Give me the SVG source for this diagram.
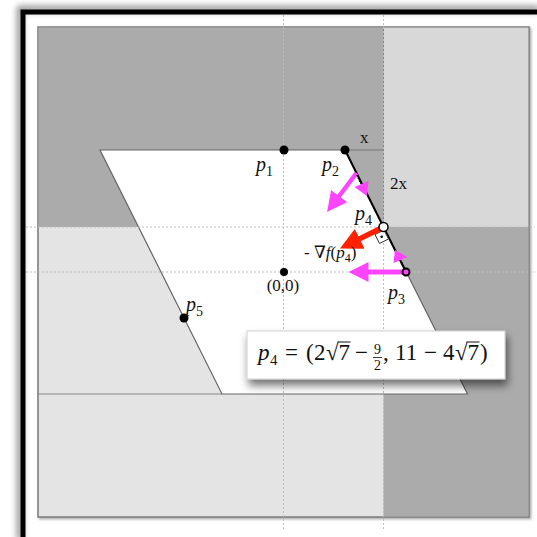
<svg xmlns="http://www.w3.org/2000/svg" width="537" height="537" viewBox="0 0 537 537">
<defs>
<style>
.lbl{font-family:"Liberation Serif","DejaVu Serif",serif;fill:#111;}
.it{font-style:italic;}
.dash{stroke:#bdbdbd;stroke-width:1;stroke-dasharray:2 2;fill:none;}
.pt{fill:#000;}
.mag{stroke:#ff44ff;fill:none;}
.red{stroke:#ff2200;fill:none;}
</style>
<filter id="blur3" x="-10%" y="-10%" width="120%" height="120%"><feGaussianBlur stdDeviation="3"/></filter>
<filter id="boxsh" x="-20%" y="-30%" width="140%" height="180%"><feDropShadow dx="2" dy="6" stdDeviation="4" flood-color="#000" flood-opacity="0.55"/></filter>
<filter id="sqsh" x="-5%" y="-5%" width="110%" height="110%"><feDropShadow dx="1.5" dy="1.5" stdDeviation="1" flood-color="#000" flood-opacity="0.35"/></filter>
<marker id="hm" markerUnits="userSpaceOnUse" markerWidth="22" markerHeight="22" refX="3" refY="10" orient="auto"><path d="M0,0 L20,10 L0,20 z" fill="#ff44ff"/></marker>
<marker id="hr" markerUnits="userSpaceOnUse" markerWidth="24" markerHeight="24" refX="3" refY="11" orient="auto"><path d="M0,0 L22,11 L0,22 z" fill="#ff2200"/></marker>
</defs>
<rect width="537" height="537" fill="#fff"/>
<!-- outer frame -->
<path d="M20 540 V9 H540" stroke="#000" stroke-opacity="0.45" stroke-width="6" fill="none" filter="url(#blur3)"/>
<path d="M23 540 V12 H540" stroke="#000" stroke-width="5" fill="none"/>
<!-- regions -->
<g id="regions">
<rect x="38" y="27" width="491" height="490" fill="#e4e4e4" stroke="#7a7a7a" stroke-width="1.5" filter="url(#sqsh)"/>
<rect x="38.75" y="27.75" width="344.75" height="199.25" fill="#ababab"/>
<rect x="383.5" y="27.75" width="144.75" height="199.25" fill="#d8d8d8"/>
<rect x="383.5" y="227" width="144.75" height="289.25" fill="#ababab"/>
<line x1="383.5" y1="27" x2="383.5" y2="227" stroke="#858585" stroke-width="1"/>
<line x1="38" y1="394" x2="222" y2="394" stroke="#858585" stroke-width="1.2"/>
<line x1="345" y1="150" x2="383.5" y2="150" stroke="#777" stroke-width="1.2"/>
</g>
<!-- feasible set -->
<g id="feasible-set">
<polygon points="100,150 345,150 467.5,394 222,394" fill="#fff" stroke="#666" stroke-width="1.2"/>
</g>
<!-- dashed axes -->
<g id="guides">
<line class="dash" x1="283.5" y1="15" x2="283.5" y2="530"/>
<line class="dash" x1="383.5" y1="15" x2="383.5" y2="530"/>
<line class="dash" x1="26" y1="227" x2="535" y2="227"/>
<line class="dash" x1="26" y1="272" x2="535" y2="272"/>
</g>
<!-- constraint segment -->
<line x1="345" y1="150" x2="406" y2="272" stroke="#000" stroke-width="2"/>
<!-- right angle marker -->
<g id="right-angle">
<polygon points="384,230 388.5,239 379.5,243.5 375,234.5" fill="#fff" stroke="#333" stroke-width="1"/>
<circle cx="381.7" cy="236.7" r="1.3" fill="#000"/>
</g>
<!-- connectors / arrows -->
<g id="connectors">
<line class="mag" x1="356.5" y1="173" x2="337.3" y2="198.5" stroke-width="4.5" marker-end="url(#hm)"/>
<line x1="357" y1="175" x2="361" y2="184" stroke="#000" stroke-width="1.5" stroke-dasharray="1.5 1.5"/>
<polygon points="354.5,187 368.5,181 367,196" fill="#ff44ff"/>
<line class="red" x1="383.5" y1="227" x2="357" y2="240.1" stroke-width="5.5" marker-end="url(#hr)"/>
<line class="mag" x1="406" y1="272" x2="365.5" y2="272" stroke-width="5" marker-end="url(#hm)"/>
<line x1="405" y1="269" x2="401" y2="261" stroke="#000" stroke-width="1.5" stroke-dasharray="1.5 1.5"/>
<polygon points="393.5,263 407.5,257 395,250" fill="#ff44ff"/>
</g>
<!-- points -->
<g id="p1"><circle class="pt" cx="284" cy="150" r="4.5"/><text class="lbl it" x="256" y="171" font-size="20">p<tspan font-size="14" dy="5" font-style="normal">1</tspan></text></g>
<g id="p2"><circle class="pt" cx="345" cy="150" r="4.5"/><text class="lbl it" x="322" y="171" font-size="20">p<tspan font-size="14" dy="5" font-style="normal">2</tspan></text></g>
<g id="origin"><circle class="pt" cx="284" cy="272" r="4"/><text class="lbl" x="283" y="291" font-size="17" text-anchor="middle">(0,0)</text></g>
<g id="p4"><circle cx="383.5" cy="227" r="4.5" fill="#fff" stroke="#000" stroke-width="1.5"/><text class="lbl it" x="355" y="220" font-size="20">p<tspan font-size="14" dy="5" font-style="normal">4</tspan></text></g>
<g id="p3"><circle cx="406" cy="272" r="3.5" fill="#ff44ff" stroke="#000" stroke-width="2"/><text class="lbl it" x="388" y="299" font-size="20">p<tspan font-size="14" dy="5" font-style="normal">3</tspan></text></g>
<g id="p5"><circle class="pt" cx="184" cy="318" r="4.5"/><text class="lbl it" x="186" y="311" font-size="20">p<tspan font-size="14" dy="5" font-style="normal">5</tspan></text></g>
<g id="labels">
<text class="lbl" x="360" y="143" font-size="17">x</text>
<text class="lbl" x="390" y="189" font-size="17">2x</text>
<text class="lbl" x="304" y="258" font-size="17">- ∇<tspan font-style="italic">f</tspan>(<tspan font-style="italic">p</tspan><tspan font-size="12" dy="4">4</tspan><tspan dy="-4">)</tspan></text>
</g>
<!-- formula box -->
<g id="formula">
<rect x="247" y="331" width="258" height="48" fill="#fff" stroke="#cfcfcf" stroke-width="1" filter="url(#boxsh)"/>
<text class="lbl" y="360" font-size="23">
<tspan x="258" font-style="italic">p</tspan><tspan x="270" y="365" font-size="15">4</tspan>
<tspan x="285" y="360">=</tspan>
<tspan x="306">(</tspan><tspan x="314">2</tspan><tspan x="326">√</tspan><tspan x="338.5">7</tspan>
<tspan x="355">−</tspan>
<tspan x="374" y="354" font-size="14">9</tspan><tspan x="374" y="369.5" font-size="14">2</tspan>
<tspan x="383" y="360">,</tspan>
<tspan x="395">11</tspan>
<tspan x="424">−</tspan>
<tspan x="443">4</tspan><tspan x="455">√</tspan><tspan x="467.5">7</tspan>
<tspan x="480">)</tspan>
</text>
<line x1="337.5" y1="342" x2="350.5" y2="342" stroke="#111" stroke-width="1"/>
<line x1="466.5" y1="342" x2="479.5" y2="342" stroke="#111" stroke-width="1"/>
<line x1="373" y1="357.5" x2="382" y2="357.5" stroke="#111" stroke-width="0.8"/>
</g>
</svg>
